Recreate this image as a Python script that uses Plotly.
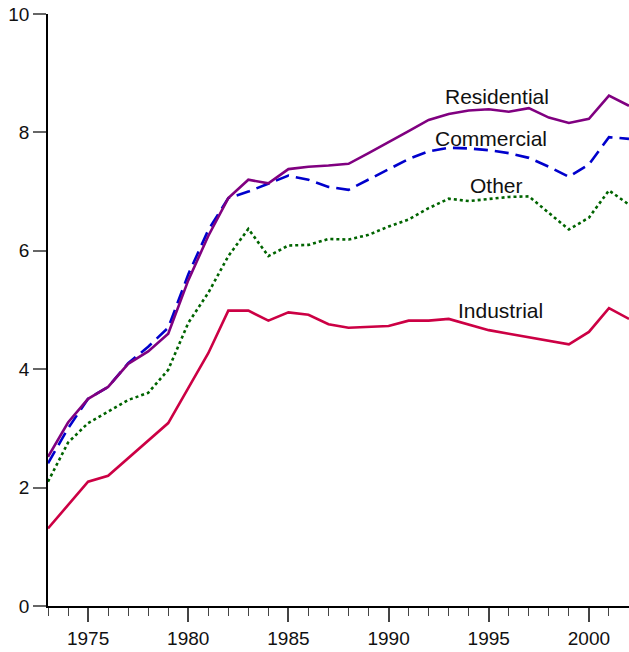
import plotly.graph_objects as go

years = list(range(1973, 2003))

residential = [2.52, 3.10, 3.50, 3.70, 4.09, 4.30, 4.60, 5.50, 6.25, 6.89,
               7.20, 7.14, 7.38, 7.42, 7.44, 7.47, 7.65, 7.83, 8.02, 8.21,
               8.31, 8.37, 8.39, 8.35, 8.41, 8.25, 8.16, 8.23, 8.62, 8.45]
commercial = [2.41, 3.00, 3.50, 3.70, 4.10, 4.38, 4.70, 5.60, 6.35, 6.89,
              7.00, 7.13, 7.27, 7.20, 7.08, 7.03, 7.20, 7.38, 7.55, 7.68,
              7.74, 7.73, 7.70, 7.65, 7.57, 7.42, 7.25, 7.46, 7.92, 7.89]
other = [2.10, 2.76, 3.09, 3.29, 3.48, 3.60, 3.99, 4.78, 5.29, 5.91,
         6.37, 5.91, 6.09, 6.10, 6.20, 6.19, 6.27, 6.41, 6.53, 6.72,
         6.88, 6.84, 6.88, 6.91, 6.92, 6.64, 6.36, 6.56, 7.02, 6.78]
industrial = [1.31, 1.71, 2.10, 2.20, 2.50, 2.79, 3.09, 3.68, 4.27, 4.99,
              4.99, 4.82, 4.96, 4.92, 4.76, 4.70, 4.72, 4.73, 4.82, 4.82,
              4.85, 4.75, 4.66, 4.60, 4.54, 4.49, 4.42, 4.63, 5.03, 4.85]

series_names = ["Residential", "Commercial", "Other", "Industrial"]
label_x = [1995.4, 1995.1, 1995.4, 1995.6]
label_y = [8.61, 7.90, 7.10, 4.99]

styles = {
    "Residential": dict(color="#800080", width=2.6, dash="solid"),
    "Commercial": dict(color="#0000CC", width=2.6, dash="14px,7px"),
    "Other": dict(color="#006400", width=2.6, dash="3px,3px"),
    "Industrial": dict(color="#CC0044", width=2.6, dash="solid"),
}

data = {"Residential": residential, "Commercial": commercial,
        "Other": other, "Industrial": industrial}

fig = go.Figure()
for name in ["Industrial", "Other", "Commercial", "Residential"]:
    fig.add_trace(go.Scatter(x=years, y=data[name], mode="lines",
                             line=styles[name], name=name,
                             showlegend=False, cliponaxis=False))

for name, lx, ly in zip(series_names, label_x, label_y):
    fig.add_annotation(x=lx, y=ly, text=name, showarrow=False,
                       font=dict(family="Liberation Sans, Arial", size=21, color="#111"),
                       xanchor="center", yanchor="middle")

fig.update_layout(
    width=629, height=652,
    margin=dict(l=48, r=0, t=14, b=46),
    paper_bgcolor="white", plot_bgcolor="white",
    font=dict(family="Liberation Sans, Arial", size=19, color="#111"),
    xaxis=dict(range=[1973, 2002], showgrid=False, zeroline=False, automargin=False,
               showline=True, linecolor="black", linewidth=1.5,
               ticks="outside", ticklen=14, tickcolor="#444", tickwidth=1.5,
               tick0=1975, dtick=5,
               minor=dict(ticks="outside", ticklen=8, dtick=1, tickcolor="#444", tickwidth=1.2)),
    yaxis=dict(range=[0, 10], showgrid=False, zeroline=False, automargin=False,
               showline=True, linecolor="black", linewidth=1.5,
               ticks="outside", ticklen=13, tickcolor="#666", tickwidth=1.5,
               tick0=0, dtick=2),
)

fig.write_html("out.html", config={"displayModeBar": False},
               post_script="document.body.style.margin='0';document.body.style.overflow='hidden';")
